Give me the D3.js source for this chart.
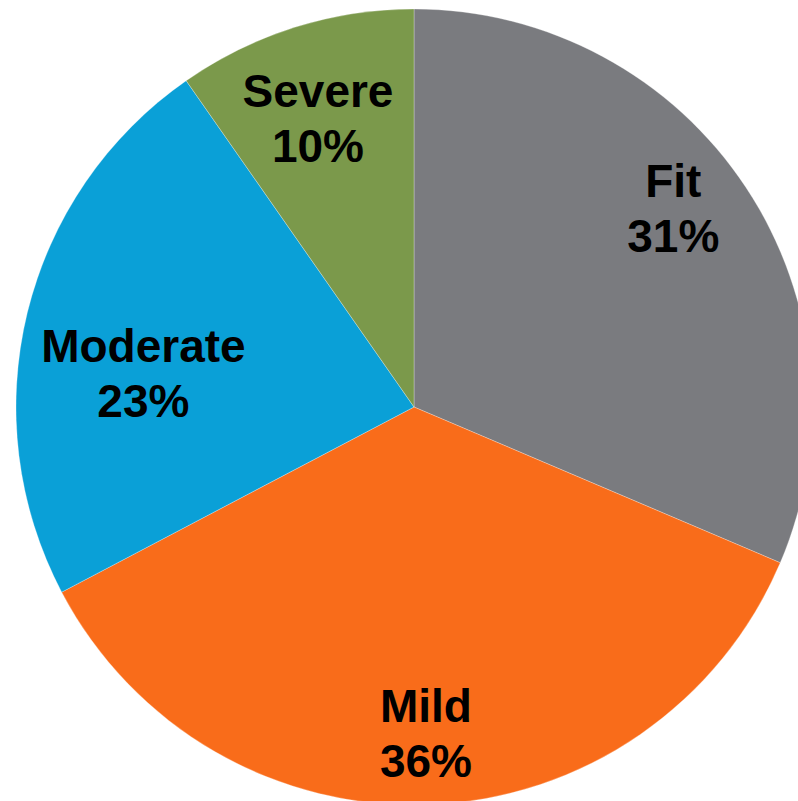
<!DOCTYPE html>
<html>
<head>
<meta charset="utf-8">
<script src="https://cdn.jsdelivr.net/npm/d3@7"></script>
<style>
html,body{margin:0;padding:0;background:#fff;overflow:hidden;}
svg{display:block;}
</style>
</head>
<body>
<svg id="chart" width="798" height="801"></svg>
<script>
// Data
const categories = ["Fit", "Mild", "Moderate", "Severe"];
const values = [31.4, 35.9, 23.0, 9.7];
const percentLabels = ["31%", "36%", "23%", "10%"];
const colors = ["#7a7b7f", "#f96c1a", "#0aa0d7", "#7b994b"];

// Layout / style
const cx = 414, cy = 407, R = 398;
const labelR = 330;
const labelNudge = [[-16, 0], [-1.5, 13], [50, 61], [3, 42]];
const fontSize = 46, lineGap = 55;

const svg = d3.select("#chart");
const g = svg.append("g").attr("transform", `translate(${cx},${cy})`);

const pie = d3.pie().sort(null).value(d => d)(values);
const arc = d3.arc().innerRadius(0).outerRadius(R);
const labelArc = d3.arc().innerRadius(labelR).outerRadius(labelR);

g.selectAll("path.slice")
  .data(pie)
  .join("path")
  .attr("class", "slice")
  .attr("d", arc)
  .attr("fill", (d, i) => colors[i])
  .attr("stroke", "rgba(255,255,255,0.35)")
  .attr("stroke-width", 0.8);

const labels = g.selectAll("text.lbl")
  .data(pie)
  .join("text")
  .attr("class", "lbl")
  .attr("text-anchor", "middle")
  .attr("font-family", "'Liberation Sans', Arial, sans-serif")
  .attr("font-weight", "bold")
  .attr("font-size", fontSize)
  .attr("fill", "#000")
  .attr("transform", (d, i) => {
    const c = labelArc.centroid(d);
    return `translate(${c[0] + labelNudge[i][0]},${c[1] + labelNudge[i][1]})`;
  });

labels.append("tspan")
  .attr("x", 0)
  .attr("y", -lineGap / 2)
  .text((d, i) => categories[i]);
labels.append("tspan")
  .attr("x", 0)
  .attr("y", lineGap / 2)
  .text((d, i) => percentLabels[i]);
</script>
</body>
</html>
